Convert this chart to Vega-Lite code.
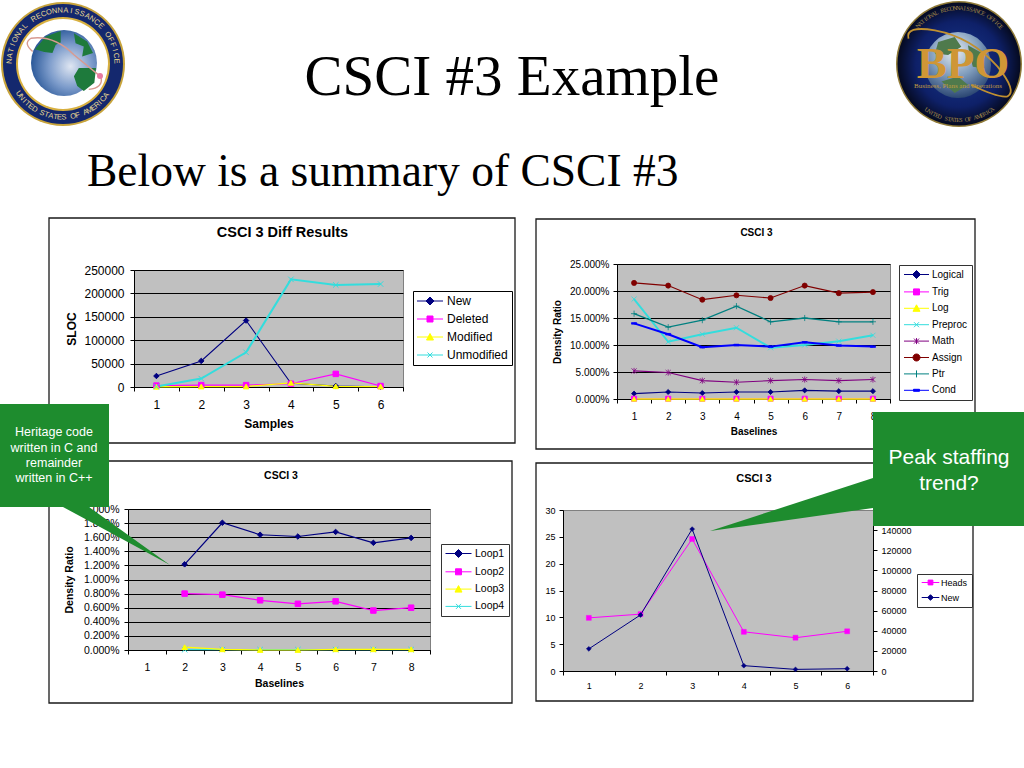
{
"$schema":"https://vega.github.io/schema/vega-lite/v6.json",
"padding":0,
"background":"white",
"config":{"font":"Liberation Sans","view":{"stroke":null},
"axis":{"domainColor":"#000","tickColor":"#000","labelColor":"#000","titleColor":"#000","labelFont":"Liberation Sans","titleFont":"Liberation Sans","titleFontWeight":"bold","tickSize":4,"labelOverlap":false,"labelFlush":false,"labelBound":false,"titleBaseline":"middle"},
"axisX":{"grid":false,"tickBand":"extent","labelAngle":0},
"axisY":{"grid":true,"gridColor":"#000","gridWidth":1.1,"gridOpacity":1},
"title":{"font":"Liberation Sans","fontWeight":"bold","color":"#000","anchor":"middle","frame":"group"}},
"hconcat":[
{"spacing":0,"bounds":"flush","vconcat":[
 {"width":302,"height":6,
  "encoding":{"x":{"field":"x","type":"quantitative","scale":{"domain":[128,430],"nice":false,"zero":false},"axis":null},
              "y":{"field":"y","type":"quantitative","scale":{"domain":[264,270],"nice":false,"zero":false,"reverse":true},"axis":null}},
  "layer":[
   {"data":{"values":[{"x":0,"x2":1024,"y":0,"y2":768}]},"mark":{"type":"rect","color":"#ffffff"},"encoding":{"x2":{"field":"x2"},"y2":{"field":"y2"}}},
   {"data":{"values":[{"x":49,"x2":515,"y":218,"y2":443},{"x":536,"x2":975,"y":219,"y2":449},{"x":49,"x2":512,"y":461,"y2":703},{"x":536,"x2":973,"y":463,"y2":701}]},"mark":{"type":"rect","fill":"#ffffff","stroke":"#1a1a1a","strokeWidth":1.3},"encoding":{"x2":{"field":"x2"},"y2":{"field":"y2"}}},
   {"data":{"values":[{"x":512,"y":95,"t":"CSCI #3 Example"}]},"mark":{"type":"text","font":"Liberation Serif","fontSize":57,"align":"center","baseline":"alphabetic","color":"#000"},"encoding":{"text":{"field":"t"}}},
   {"data":{"values":[{"x":87,"y":186,"t":"Below is a summary of CSCI #3"}]},"mark":{"type":"text","font":"Liberation Serif","fontSize":45.5,"align":"left","baseline":"alphabetic","color":"#000"},"encoding":{"text":{"field":"t"}}},

   {"data":{"values":[{"x":63,"y":64}]},"mark":{"type":"point","shape":"circle","filled":true,"size":15376,"color":"#c8a43c","opacity":1}},
   {"data":{"values":[{"x":63,"y":64}]},"mark":{"type":"point","shape":"circle","filled":true,"size":14400,"color":"#14286e","opacity":1}},
   {"data":{"values":[{"x":63,"y":64}]},"mark":{"type":"point","shape":"circle","filled":true,"size":8836,"color":"#d8b040","opacity":1}},
   {"data":{"values":[{"x":63,"y":64}]},"mark":{"type":"point","shape":"circle","filled":true,"size":8100,"color":"#ffffff","opacity":1}},
   {"data":{"values":[{"x":64,"y":63}]},"mark":{"type":"point","shape":"circle","size":4356,"filled":true,"opacity":1,"fill":{"gradient":"radial","x1":0.6,"y1":0.55,"r1":0,"x2":0.6,"y2":0.55,"r2":0.65,"stops":[{"offset":0,"color":"#dfe6f2"},{"offset":0.5,"color":"#7d9ccb"},{"offset":1,"color":"#1c4c90"}]}}},
   {"data":{"values":[{"x":64,"y":63}]},"mark":{"type":"point","size":4356,"filled":true,"opacity":1,"color":"#1e7a3c","shape":"M-.88,-.42L-.55,-.8L-.1,-.97L-.1,-.62L-.25,-.55L-.35,-.3L-.6,-.33ZM.3,-.9L.7,-.65L.88,-.3L.55,-.2L.6,-.5L.35,-.6ZM.45,.15L.97,.15L.92,.6L.6,.85L.4,.7L.3,.4Z"}},
   {"data":{"values":[{"x":64,"y":63}]},"mark":{"type":"point","size":4356,"filled":false,"opacity":1,"stroke":"#d89a90","strokeWidth":1.4,"shape":"M1.12,.42L.3,-.25Q-.3,-.85 -1,-.75Q-1.25,-.6 -.95,-.35M1.12,.42Q1.2,.75 .75,.8"}},
   {"data":{"values":[{"x":100,"y":76}]},"mark":{"type":"point","shape":"circle","filled":true,"size":36,"color":"#e87aa0","opacity":1}},
   {"data":{"values":[
    {"x":63,"y":64,"c":"N","t":-87,"a":-87},{"x":63,"y":64,"c":"A","t":-81,"a":-81},{"x":63,"y":64,"c":"T","t":-75,"a":-75},{"x":63,"y":64,"c":"I","t":-69,"a":-69},{"x":63,"y":64,"c":"O","t":-63,"a":-63},{"x":63,"y":64,"c":"N","t":-57,"a":-57},{"x":63,"y":64,"c":"A","t":-51,"a":-51},{"x":63,"y":64,"c":"L","t":-45,"a":-45},
    {"x":63,"y":64,"c":"R","t":-33,"a":-33},{"x":63,"y":64,"c":"E","t":-27,"a":-27},{"x":63,"y":64,"c":"C","t":-21,"a":-21},{"x":63,"y":64,"c":"O","t":-15,"a":-15},{"x":63,"y":64,"c":"N","t":-9,"a":-9},{"x":63,"y":64,"c":"N","t":-3,"a":-3},{"x":63,"y":64,"c":"A","t":3,"a":3},{"x":63,"y":64,"c":"I","t":9,"a":9},{"x":63,"y":64,"c":"S","t":15,"a":15},{"x":63,"y":64,"c":"S","t":21,"a":21},{"x":63,"y":64,"c":"A","t":27,"a":27},{"x":63,"y":64,"c":"N","t":33,"a":33},{"x":63,"y":64,"c":"C","t":39,"a":39},{"x":63,"y":64,"c":"E","t":45,"a":45},
    {"x":63,"y":64,"c":"O","t":57,"a":57},{"x":63,"y":64,"c":"F","t":63,"a":63},{"x":63,"y":64,"c":"F","t":69,"a":69},{"x":63,"y":64,"c":"I","t":75,"a":75},{"x":63,"y":64,"c":"C","t":81,"a":81},{"x":63,"y":64,"c":"E","t":87,"a":87},
    {"x":63,"y":64,"c":"U","t":236,"a":56},{"x":63,"y":64,"c":"N","t":231,"a":51},{"x":63,"y":64,"c":"I","t":226,"a":46},{"x":63,"y":64,"c":"T","t":222,"a":42},{"x":63,"y":64,"c":"E","t":217,"a":37},{"x":63,"y":64,"c":"D","t":212,"a":32},
    {"x":63,"y":64,"c":"S","t":203,"a":23},{"x":63,"y":64,"c":"T","t":198,"a":18},{"x":63,"y":64,"c":"A","t":193,"a":13},{"x":63,"y":64,"c":"T","t":188,"a":8},{"x":63,"y":64,"c":"E","t":184,"a":4},{"x":63,"y":64,"c":"S","t":179,"a":-1},
    {"x":63,"y":64,"c":"O","t":169,"a":-11},{"x":63,"y":64,"c":"F","t":164,"a":-16},
    {"x":63,"y":64,"c":"A","t":155,"a":-25},{"x":63,"y":64,"c":"M","t":150,"a":-30},{"x":63,"y":64,"c":"E","t":145,"a":-35},{"x":63,"y":64,"c":"R","t":140,"a":-40},{"x":63,"y":64,"c":"I","t":136,"a":-44},{"x":63,"y":64,"c":"C","t":131,"a":-49},{"x":63,"y":64,"c":"A","t":126,"a":-54}
   ]},"mark":{"type":"text","radius":53.5,"fontSize":7.5,"align":"center","baseline":"middle","color":"#e8d890"},"encoding":{"text":{"field":"c"},"theta":{"field":"t","type":"quantitative","scale":{"domain":[0,360],"range":[0,6.28319]}},"angle":{"field":"a","type":"quantitative","scale":null}}},

   {"data":{"values":[{"x":959,"y":64}]},"mark":{"type":"point","shape":"circle","filled":true,"size":15876,"color":"#8f7a38","opacity":1}},
   {"data":{"values":[{"x":959,"y":64}]},"mark":{"type":"point","shape":"circle","filled":true,"size":15129,"opacity":1,"fill":{"gradient":"radial","x1":0.5,"y1":0.5,"r1":0,"x2":0.5,"y2":0.5,"r2":0.5,"stops":[{"offset":0,"color":"#1a3a90"},{"offset":0.7,"color":"#0e2068"},{"offset":1,"color":"#050a20"}]}}},
   {"data":{"values":[{"x":958,"y":65}]},"mark":{"type":"point","shape":"circle","size":4356,"filled":true,"opacity":1,"fill":{"gradient":"radial","x1":0.45,"y1":0.3,"r1":0,"x2":0.45,"y2":0.3,"r2":0.75,"stops":[{"offset":0,"color":"#e6ecf2"},{"offset":0.5,"color":"#7f9cbc"},{"offset":1,"color":"#1f3a68"}]}}},
   {"data":{"values":[{"x":958,"y":65}]},"mark":{"type":"point","size":4356,"filled":true,"opacity":1,"color":"#4f7a4c","shape":"M-.6,-.7L-.1,-.85L.1,-.55L-.3,-.3L-.7,-.35ZM.3,-.6L.75,-.35L.8,.1L.45,.05L.35,-.3ZM-.5,.5L0,.35L.3,.6L-.1,.85Z"}},
   {"data":{"values":[{"x":958,"y":65}]},"mark":{"type":"point","size":4356,"filled":false,"opacity":1,"stroke":"#c09030","strokeWidth":1.8,"shape":"M-1.5,-.8Q-1.6,-1.2 -.7,-1.05Q.4,-.85 1.2,.05Q1.8,.8 1.5,.95Q1.2,1 .4,.6"}},
   {"data":{"values":[{"x":963,"y":78,"t":"BPO"}]},"mark":{"type":"text","font":"Liberation Serif","fontSize":45,"fontWeight":"bold","align":"center","baseline":"alphabetic","color":"#cf9636"},"encoding":{"text":{"field":"t"}}},
   {"data":{"values":[{"x":958,"y":88,"t":"Business, Plans and Operations"}]},"mark":{"type":"text","font":"Liberation Serif","fontSize":7,"align":"center","baseline":"alphabetic","color":"#c09a40"},"encoding":{"text":{"field":"t"}}},
   {"data":{"values":[
    {"x":959,"y":64,"c":"N","t":-47,"a":-47},{"x":959,"y":64,"c":"A","t":-43.7,"a":-43.7},{"x":959,"y":64,"c":"T","t":-40.4,"a":-40.4},{"x":959,"y":64,"c":"I","t":-37.1,"a":-37.1},{"x":959,"y":64,"c":"O","t":-33.8,"a":-33.8},{"x":959,"y":64,"c":"N","t":-30.5,"a":-30.5},{"x":959,"y":64,"c":"A","t":-27.2,"a":-27.2},{"x":959,"y":64,"c":"L","t":-23.9,"a":-23.9},
    {"x":959,"y":64,"c":"R","t":-17.3,"a":-17.3},{"x":959,"y":64,"c":"E","t":-14,"a":-14},{"x":959,"y":64,"c":"C","t":-10.7,"a":-10.7},{"x":959,"y":64,"c":"O","t":-7.4,"a":-7.4},{"x":959,"y":64,"c":"N","t":-4.1,"a":-4.1},{"x":959,"y":64,"c":"N","t":-0.8,"a":-0.8},{"x":959,"y":64,"c":"A","t":2.5,"a":2.5},{"x":959,"y":64,"c":"I","t":5.8,"a":5.8},{"x":959,"y":64,"c":"S","t":9.1,"a":9.1},{"x":959,"y":64,"c":"S","t":12.4,"a":12.4},{"x":959,"y":64,"c":"A","t":15.7,"a":15.7},{"x":959,"y":64,"c":"N","t":19,"a":19},{"x":959,"y":64,"c":"C","t":22.3,"a":22.3},{"x":959,"y":64,"c":"E","t":25.6,"a":25.6},
    {"x":959,"y":64,"c":"O","t":32.2,"a":32.2},{"x":959,"y":64,"c":"F","t":35.5,"a":35.5},{"x":959,"y":64,"c":"F","t":38.8,"a":38.8},{"x":959,"y":64,"c":"I","t":42.1,"a":42.1},{"x":959,"y":64,"c":"C","t":45.4,"a":45.4},{"x":959,"y":64,"c":"E","t":48.7,"a":48.7},
    {"x":959,"y":64,"c":"U","t":215,"a":35},{"x":959,"y":64,"c":"N","t":212,"a":32},{"x":959,"y":64,"c":"I","t":209,"a":29},{"x":959,"y":64,"c":"T","t":206,"a":26},{"x":959,"y":64,"c":"E","t":203,"a":23},{"x":959,"y":64,"c":"D","t":200,"a":20},
    {"x":959,"y":64,"c":"S","t":193,"a":13},{"x":959,"y":64,"c":"T","t":190,"a":10},{"x":959,"y":64,"c":"A","t":187,"a":7},{"x":959,"y":64,"c":"T","t":184,"a":4},{"x":959,"y":64,"c":"E","t":181,"a":1},{"x":959,"y":64,"c":"S","t":178,"a":-2},
    {"x":959,"y":64,"c":"O","t":172,"a":-8},{"x":959,"y":64,"c":"F","t":169,"a":-11},
    {"x":959,"y":64,"c":"A","t":163,"a":-17},{"x":959,"y":64,"c":"M","t":159,"a":-21},{"x":959,"y":64,"c":"E","t":156,"a":-24},{"x":959,"y":64,"c":"R","t":153,"a":-27},{"x":959,"y":64,"c":"I","t":150,"a":-30},{"x":959,"y":64,"c":"C","t":147,"a":-33},{"x":959,"y":64,"c":"A","t":144,"a":-36}
   ]},"mark":{"type":"text","radius":56,"fontSize":6,"font":"Liberation Serif","align":"center","baseline":"middle","color":"#a88c48"},"encoding":{"text":{"field":"c"},"theta":{"field":"t","type":"quantitative","scale":{"domain":[0,360],"range":[0,6.28319]}},"angle":{"field":"a","type":"quantitative","scale":null}}}
  ]},
 {"spacing":0,"bounds":"flush","hconcat":[
  {"width":6,"height":1,"data":{"values":[{}]},"mark":{"type":"rule","opacity":0},"encoding":{}},
  {"width":269,"height":117,"view":{"fill":"#c0c0c0","stroke":"#808080"},
   "title":{"text":"CSCI 3 Diff Results","fontSize":14.5,"dx":14,"offset":24},
   "data":{"values":[
    {"s":"1","series":"New","v":23500},{"s":"2","series":"New","v":55700},{"s":"3","series":"New","v":142000},{"s":"4","series":"New","v":8000},{"s":"5","series":"New","v":2000},{"s":"6","series":"New","v":500},
    {"s":"1","series":"Deleted","v":3000},{"s":"2","series":"Deleted","v":4000},{"s":"3","series":"Deleted","v":4000},{"s":"4","series":"Deleted","v":7000},{"s":"5","series":"Deleted","v":28000},{"s":"6","series":"Deleted","v":2000},
    {"s":"1","series":"Modified","v":500},{"s":"2","series":"Modified","v":1000},{"s":"3","series":"Modified","v":1000},{"s":"4","series":"Modified","v":9000},{"s":"5","series":"Modified","v":1500},{"s":"6","series":"Modified","v":1000},
    {"s":"1","series":"Unmodified","v":1000},{"s":"2","series":"Unmodified","v":18000},{"s":"3","series":"Unmodified","v":74000},{"s":"4","series":"Unmodified","v":230000},{"s":"5","series":"Unmodified","v":218000},{"s":"6","series":"Unmodified","v":220000}
   ]},
   "encoding":{
    "x":{"field":"s","type":"ordinal","scale":{"type":"band","domain":["1","2","3","4","5","6"],"paddingInner":0,"paddingOuter":0},"axis":{"title":"Samples","labelFontSize":12,"titleFontSize":12,"labelPadding":8,"titleY":36}},
    "y":{"field":"v","type":"quantitative","scale":{"domain":[0,250000],"nice":false},"axis":{"title":"SLOC","values":[0,50000,100000,150000,200000,250000],"format":"d","labelFontSize":12,"titleFontSize":12,"labelPadding":6,"titleX":-63}},
    "color":{"field":"series","type":"nominal","scale":{"domain":["New","Deleted","Modified","Unmodified"],"range":["#000080","#ff00ff","#ffff00","#33dddd"]},"legend":null},
    "stroke":{"field":"series","type":"nominal","scale":{"domain":["New","Deleted","Modified","Unmodified"],"range":["#000080","#ff00ff","#ffff00","#33dddd"]},"legend":null}
   },
   "layer":[
    {"mark":{"type":"line"},"encoding":{"strokeWidth":{"field":"series","type":"nominal","scale":{"type":"ordinal","domain":["New","Deleted","Modified","Unmodified"],"range":[1.1,1.1,1.3,2]},"legend":null}}},
    {"mark":{"type":"point","filled":true,"size":30,"strokeWidth":1,"opacity":1},"encoding":{"shape":{"field":"series","type":"nominal","scale":{"domain":["New","Deleted","Modified","Unmodified"],"range":["diamond","square","triangle-up","M-1,-1L1,1M-1,1L1,-1"]},"legend":null}}},
    {"mark":{"type":"point","filled":true,"size":0,"strokeWidth":1,"opacity":1},"encoding":{
      "color":{"field":"series","type":"nominal","scale":{"domain":["New","Deleted","Modified","Unmodified"],"range":["#000080","#ff00ff","#ffff00","#33dddd"]},"legend":{"orient":"none","legendX":279,"legendY":21,"title":null,"fillColor":"#ffffff","strokeColor":"#000000","padding":4,"symbolSize":100,"symbolOffset":7,"labelOffset":11,"labelFontSize":12,"labelColor":"#000000","rowPadding":6,"symbolStrokeWidth":1}},
      "stroke":{"field":"series","type":"nominal","scale":{"domain":["New","Deleted","Modified","Unmodified"],"range":["#000080","#ff00ff","#ffff00","#33dddd"]},"legend":{"orient":"none","legendX":279,"legendY":21,"title":null,"fillColor":"#ffffff","strokeColor":"#000000","padding":4,"symbolSize":100,"symbolOffset":7,"labelOffset":11,"labelFontSize":12,"labelColor":"#000000","rowPadding":6,"symbolStrokeWidth":1}},
      "shape":{"field":"series","type":"nominal","scale":{"domain":["New","Deleted","Modified","Unmodified"],"range":["M-2.6,0H2.6M0,-.8L.8,0 0,.8 -.8,0Z","M-2.6,0H2.6M-.6,-.6H.6V.6H-.6Z","M-2.6,0H2.6M0,-.7L.7,.6H-.7Z","M-2.6,0H2.6M-.5,-.5L.5,.5M-.5,.5L.5,-.5"]},"legend":{"orient":"none","legendX":279,"legendY":21,"title":null,"fillColor":"#ffffff","strokeColor":"#000000","padding":4,"symbolSize":100,"symbolOffset":7,"labelOffset":11,"labelFontSize":12,"labelColor":"#000000","rowPadding":6,"symbolStrokeWidth":1}}
    }}
   ],
   "resolve":{"scale":{"color":"independent","stroke":"independent","shape":"independent"}}
  }
 ]},
 {"width":1,"height":239,"data":{"values":[{}]},"mark":{"type":"rule","opacity":0},"encoding":{}},
 {"width":302,"height":141,"view":{"fill":"#c0c0c0","stroke":"#808080"},
   "title":{"text":"CSCI 3","fontSize":10.5,"dx":2,"offset":23},
   "data":{"values":[
    {"s":"2","series":"Loop1","v":0.01215},{"s":"3","series":"Loop1","v":0.01805},{"s":"4","series":"Loop1","v":0.01635},{"s":"5","series":"Loop1","v":0.0161},{"s":"6","series":"Loop1","v":0.01675},{"s":"7","series":"Loop1","v":0.0152},{"s":"8","series":"Loop1","v":0.0159},
    {"s":"2","series":"Loop2","v":0.008},{"s":"3","series":"Loop2","v":0.00785},{"s":"4","series":"Loop2","v":0.00705},{"s":"5","series":"Loop2","v":0.00655},{"s":"6","series":"Loop2","v":0.0069},{"s":"7","series":"Loop2","v":0.0056},{"s":"8","series":"Loop2","v":0.006},
    {"s":"2","series":"Loop4","v":0.00005},{"s":"3","series":"Loop4","v":0.00005},{"s":"4","series":"Loop4","v":0.00005},{"s":"5","series":"Loop4","v":0.00005},{"s":"6","series":"Loop4","v":0.00005},{"s":"7","series":"Loop4","v":0.00005},{"s":"8","series":"Loop4","v":0.00005},
    {"s":"2","series":"Loop3","v":0.0004},{"s":"3","series":"Loop3","v":0.0001},{"s":"4","series":"Loop3","v":0},{"s":"5","series":"Loop3","v":0},{"s":"6","series":"Loop3","v":0.0001},{"s":"7","series":"Loop3","v":0.0001},{"s":"8","series":"Loop3","v":0.0001}
   ]},
   "encoding":{
    "x":{"field":"s","type":"ordinal","scale":{"type":"band","domain":["1","2","3","4","5","6","7","8"],"paddingInner":0,"paddingOuter":0},"axis":{"title":"Baselines","labelFontSize":10.5,"titleFontSize":10.5,"labelPadding":8,"titleY":33}},
    "y":{"field":"v","type":"quantitative","scale":{"domain":[0,0.02],"nice":false},"axis":{"title":"Density Ratio","values":[0,0.002,0.004,0.006,0.008,0.01,0.012,0.014,0.016,0.018,0.02],"format":".3%","labelFontSize":10.5,"titleFontSize":10.5,"labelPadding":5,"titleX":-59}},
    "color":{"field":"series","type":"nominal","scale":{"domain":["Loop1","Loop2","Loop3","Loop4"],"range":["#000080","#ff00ff","#ffff00","#33dddd"]},"legend":null},
    "stroke":{"field":"series","type":"nominal","scale":{"domain":["Loop1","Loop2","Loop3","Loop4"],"range":["#000080","#ff00ff","#ffff00","#33dddd"]},"legend":null}
   },
   "layer":[
    {"mark":{"type":"line","strokeWidth":1.2}},
    {"mark":{"type":"point","filled":true,"size":30,"strokeWidth":1,"opacity":1},"encoding":{"shape":{"field":"series","type":"nominal","scale":{"domain":["Loop1","Loop2","Loop3","Loop4"],"range":["diamond","square","triangle-up","M-1,-1L1,1M-1,1L1,-1"]},"legend":null}}},
    {"mark":{"type":"point","filled":true,"size":0,"strokeWidth":1,"opacity":1},"encoding":{
      "color":{"field":"series","type":"nominal","scale":{"domain":["Loop1","Loop2","Loop3","Loop4"],"range":["#000080","#ff00ff","#ffff00","#33dddd"]},"legend":{"orient":"none","legendX":313,"legendY":35,"title":null,"fillColor":"#ffffff","strokeColor":"#333333","padding":4,"symbolSize":100,"symbolOffset":8,"labelOffset":11,"labelFontSize":10.5,"labelColor":"#000000","rowPadding":6.3,"symbolStrokeWidth":1}},
      "stroke":{"field":"series","type":"nominal","scale":{"domain":["Loop1","Loop2","Loop3","Loop4"],"range":["#000080","#ff00ff","#ffff00","#33dddd"]},"legend":{"orient":"none","legendX":313,"legendY":35,"title":null,"fillColor":"#ffffff","strokeColor":"#333333","padding":4,"symbolSize":100,"symbolOffset":8,"labelOffset":11,"labelFontSize":10.5,"labelColor":"#000000","rowPadding":6.3,"symbolStrokeWidth":1}},
      "shape":{"field":"series","type":"nominal","scale":{"domain":["Loop1","Loop2","Loop3","Loop4"],"range":["M-2.6,0H2.6M0,-.8L.8,0 0,.8 -.8,0Z","M-2.6,0H2.6M-.6,-.6H.6V.6H-.6Z","M-2.6,0H2.6M0,-.7L.7,.6H-.7Z","M-2.6,0H2.6M-.5,-.5L.5,.5M-.5,.5L.5,-.5"]},"legend":{"orient":"none","legendX":313,"legendY":35,"title":null,"fillColor":"#ffffff","strokeColor":"#333333","padding":4,"symbolSize":100,"symbolOffset":8,"labelOffset":11,"labelFontSize":10.5,"labelColor":"#000000","rowPadding":6.3,"symbolStrokeWidth":1}}
    }}
   ],
   "resolve":{"scale":{"color":"independent","stroke":"independent","shape":"independent"}}
 }
]},
{"spacing":0,"bounds":"flush","vconcat":[
 {"spacing":0,"bounds":"flush","hconcat":[
  {"width":54,"height":1,"data":{"values":[{}]},"mark":{"type":"rule","opacity":0},"encoding":{}},
  {"width":273,"height":135,"view":{"fill":"#c0c0c0","stroke":"#808080"},
   "title":{"text":"CSCI 3","fontSize":10,"dx":3,"offset":21},
   "data":{"values":[
    {"s":"1","series":"Logical","v":0.01},{"s":"2","series":"Logical","v":0.013},{"s":"3","series":"Logical","v":0.011},{"s":"4","series":"Logical","v":0.013},{"s":"5","series":"Logical","v":0.013},{"s":"6","series":"Logical","v":0.016},{"s":"7","series":"Logical","v":0.0145},{"s":"8","series":"Logical","v":0.0145},
    {"s":"1","series":"Trig","v":0.0005},{"s":"2","series":"Trig","v":0.0005},{"s":"3","series":"Trig","v":0.0005},{"s":"4","series":"Trig","v":0.0005},{"s":"5","series":"Trig","v":0.0005},{"s":"6","series":"Trig","v":0.0005},{"s":"7","series":"Trig","v":0.0005},{"s":"8","series":"Trig","v":0.0005},
    {"s":"1","series":"Log","v":0},{"s":"2","series":"Log","v":0},{"s":"3","series":"Log","v":0},{"s":"4","series":"Log","v":0},{"s":"5","series":"Log","v":0},{"s":"6","series":"Log","v":0},{"s":"7","series":"Log","v":0},{"s":"8","series":"Log","v":0},
    {"s":"1","series":"Preproc","v":0.185},{"s":"2","series":"Preproc","v":0.106},{"s":"3","series":"Preproc","v":0.12},{"s":"4","series":"Preproc","v":0.132},{"s":"5","series":"Preproc","v":0.095},{"s":"6","series":"Preproc","v":0.1},{"s":"7","series":"Preproc","v":0.107},{"s":"8","series":"Preproc","v":0.118},
    {"s":"1","series":"Math","v":0.052},{"s":"2","series":"Math","v":0.049},{"s":"3","series":"Math","v":0.034},{"s":"4","series":"Math","v":0.031},{"s":"5","series":"Math","v":0.034},{"s":"6","series":"Math","v":0.036},{"s":"7","series":"Math","v":0.034},{"s":"8","series":"Math","v":0.036},
    {"s":"1","series":"Assign","v":0.215},{"s":"2","series":"Assign","v":0.21},{"s":"3","series":"Assign","v":0.184},{"s":"4","series":"Assign","v":0.192},{"s":"5","series":"Assign","v":0.187},{"s":"6","series":"Assign","v":0.21},{"s":"7","series":"Assign","v":0.196},{"s":"8","series":"Assign","v":0.198},
    {"s":"1","series":"Ptr","v":0.158},{"s":"2","series":"Ptr","v":0.133},{"s":"3","series":"Ptr","v":0.146},{"s":"4","series":"Ptr","v":0.172},{"s":"5","series":"Ptr","v":0.143},{"s":"6","series":"Ptr","v":0.15},{"s":"7","series":"Ptr","v":0.143},{"s":"8","series":"Ptr","v":0.143},
    {"s":"1","series":"Cond","v":0.14},{"s":"2","series":"Cond","v":0.12},{"s":"3","series":"Cond","v":0.096},{"s":"4","series":"Cond","v":0.1},{"s":"5","series":"Cond","v":0.097},{"s":"6","series":"Cond","v":0.105},{"s":"7","series":"Cond","v":0.099},{"s":"8","series":"Cond","v":0.097}
   ]},
   "encoding":{
    "x":{"field":"s","type":"ordinal","scale":{"type":"band","domain":["1","2","3","4","5","6","7","8"],"paddingInner":0,"paddingOuter":0},"axis":{"title":"Baselines","labelFontSize":10,"titleFontSize":10,"labelPadding":8,"titleY":32}},
    "y":{"field":"v","type":"quantitative","scale":{"domain":[0,0.25],"nice":false},"axis":{"title":"Density Ratio","values":[0,0.05,0.1,0.15,0.2,0.25],"format":".3%","labelFontSize":10,"titleFontSize":10,"labelPadding":4,"titleX":-60}},
    "color":{"field":"series","type":"nominal","scale":{"domain":["Logical","Trig","Log","Preproc","Math","Assign","Ptr","Cond"],"range":["#000080","#ff00ff","#ffff00","#33dddd","#800080","#800000","#008080","#0000ff"]},"legend":null},
    "stroke":{"field":"series","type":"nominal","scale":{"domain":["Logical","Trig","Log","Preproc","Math","Assign","Ptr","Cond"],"range":["#000080","#ff00ff","#ffff00","#33dddd","#800080","#800000","#008080","#0000ff"]},"legend":null}
   },
   "layer":[
    {"mark":{"type":"line"},"encoding":{"strokeWidth":{"field":"series","type":"nominal","scale":{"type":"ordinal","domain":["Logical","Trig","Log","Preproc","Math","Assign","Ptr","Cond"],"range":[1.1,1.1,1.1,2,1.1,1.1,1.1,1.1]},"legend":null}}},
    {"mark":{"type":"point","filled":true,"size":26,"strokeWidth":0.8,"opacity":1},"encoding":{"shape":{"field":"series","type":"nominal","scale":{"domain":["Logical","Trig","Log","Preproc","Math","Assign","Ptr","Cond"],"range":["diamond","square","triangle-up","M-1,-1L1,1M-1,1L1,-1","M-1,-1L1,1M-1,1L1,-1M0,-1.2V1.2","circle","M-1.2,0H1.2M0,-1.2V1.2","M-1,-.3H1V.3H-1Z"]},"legend":null}}},
    {"mark":{"type":"point","filled":true,"size":0,"strokeWidth":1,"opacity":1},"encoding":{
      "color":{"field":"series","type":"nominal","scale":{"domain":["Logical","Trig","Log","Preproc","Math","Assign","Ptr","Cond"],"range":["#000080","#ff00ff","#ffff00","#33dddd","#800080","#800000","#008080","#0000ff"]},"legend":{"orient":"none","legendX":282,"legendY":1,"title":null,"fillColor":"#ffffff","strokeColor":"#333333","padding":4,"symbolSize":100,"symbolOffset":8,"labelOffset":10,"labelFontSize":10,"labelColor":"#000000","rowPadding":5.4,"symbolStrokeWidth":1}},
      "stroke":{"field":"series","type":"nominal","scale":{"domain":["Logical","Trig","Log","Preproc","Math","Assign","Ptr","Cond"],"range":["#000080","#ff00ff","#ffff00","#33dddd","#800080","#800000","#008080","#0000ff"]},"legend":{"orient":"none","legendX":282,"legendY":1,"title":null,"fillColor":"#ffffff","strokeColor":"#333333","padding":4,"symbolSize":100,"symbolOffset":8,"labelOffset":10,"labelFontSize":10,"labelColor":"#000000","rowPadding":5.4,"symbolStrokeWidth":1}},
      "shape":{"field":"series","type":"nominal","scale":{"domain":["Logical","Trig","Log","Preproc","Math","Assign","Ptr","Cond"],"range":["M-2.5,0H2.5M0,-.8L.8,0 0,.8 -.8,0Z","M-2.5,0H2.5M-.6,-.6H.6V.6H-.6Z","M-2.5,0H2.5M0,-.7L.7,.6H-.7Z","M-2.5,0H2.5M-.5,-.5L.5,.5M-.5,.5L.5,-.5","M-2.5,0H2.5M-.5,-.5L.5,.5M-.5,.5L.5,-.5M0,-.6V.6","M-2.5,0H2.5M-.7,0A.7,.7 0 1 1 .7,0A.7,.7 0 1 1 -.7,0Z","M-2.5,0H2.5M0,-.7V.7","M-2.5,0H2.5M-.6,-.2H.6V.2H-.6Z"]},"legend":{"orient":"none","legendX":282,"legendY":1,"title":null,"fillColor":"#ffffff","strokeColor":"#333333","padding":4,"symbolSize":100,"symbolOffset":8,"labelOffset":10,"labelFontSize":10,"labelColor":"#000000","rowPadding":5.4,"symbolStrokeWidth":1}}
    }}
   ],
   "resolve":{"scale":{"color":"independent","stroke":"independent","shape":"independent"}}
  }
 ]},
 {"width":1,"height":246,"data":{"values":[{}]},"mark":{"type":"rule","opacity":0},"encoding":{}},
 {"width":310,"height":161,"view":{"fill":"#c0c0c0","stroke":"#808080"},
   "title":{"text":"CSCI 3","fontSize":11,"dx":36,"offset":22},
   "encoding":{
    "x":{"field":"s","type":"ordinal","scale":{"type":"band","domain":["1","2","3","4","5","6"],"paddingInner":0,"paddingOuter":0},"axis":{"title":null,"labelFontSize":9,"labelPadding":6}},
    "color":{"field":"series","type":"nominal","scale":{"domain":["Heads","New"],"range":["#ff00ff","#000080"]},"legend":null},
    "stroke":{"field":"series","type":"nominal","scale":{"domain":["Heads","New"],"range":["#ff00ff","#000080"]},"legend":null}
   },
   "layer":[
    {"data":{"values":[{"s":"1","series":"Heads","v":9.9},{"s":"2","series":"Heads","v":10.6},{"s":"3","series":"Heads","v":24.6},{"s":"4","series":"Heads","v":7.3},{"s":"5","series":"Heads","v":6.2},{"s":"6","series":"Heads","v":7.4}]},
     "encoding":{"y":{"field":"v","type":"quantitative","scale":{"domain":[0,30],"nice":false},"axis":{"title":null,"orient":"left","grid":false,"values":[0,5,10,15,20,25,30],"labelFontSize":9,"labelPadding":4}}},
     "layer":[{"mark":{"type":"line","strokeWidth":1}},{"mark":{"type":"point","shape":"square","filled":true,"size":24,"strokeWidth":0.5,"opacity":1}}]},
    {"data":{"values":[{"s":"1","series":"New","v":22000},{"s":"2","series":"New","v":55700},{"s":"3","series":"New","v":141000},{"s":"4","series":"New","v":5300},{"s":"5","series":"New","v":1600},{"s":"6","series":"New","v":2300}]},
     "encoding":{"y":{"field":"v","type":"quantitative","scale":{"domain":[0,160000],"nice":false},"axis":{"title":null,"orient":"right","grid":false,"values":[0,20000,40000,60000,80000,100000,120000,140000,160000],"format":"d","labelFontSize":9,"labelPadding":4}}},
     "layer":[{"mark":{"type":"line","strokeWidth":1}},{"mark":{"type":"point","shape":"diamond","filled":true,"size":24,"strokeWidth":0.5,"opacity":1}}]},
    {"data":{"values":[{"s":"1","series":"Heads","v":0},{"s":"1","series":"New","v":0}]},
     "mark":{"type":"point","filled":true,"size":0,"strokeWidth":1,"opacity":1},
     "encoding":{
      "y":{"field":"v","type":"quantitative","scale":{"domain":[0,1],"nice":false},"axis":null},
      "color":{"field":"series","type":"nominal","scale":{"domain":["Heads","New"],"range":["#ff00ff","#000080"]},"legend":{"orient":"none","legendX":354,"legendY":64,"title":null,"fillColor":"#ffffff","strokeColor":"#333333","padding":4,"symbolSize":64,"symbolOffset":5,"labelOffset":6,"labelFontSize":9,"labelColor":"#000000","rowPadding":4,"symbolStrokeWidth":1}},
      "stroke":{"field":"series","type":"nominal","scale":{"domain":["Heads","New"],"range":["#ff00ff","#000080"]},"legend":{"orient":"none","legendX":354,"legendY":64,"title":null,"fillColor":"#ffffff","strokeColor":"#333333","padding":4,"symbolSize":64,"symbolOffset":5,"labelOffset":6,"labelFontSize":9,"labelColor":"#000000","rowPadding":4,"symbolStrokeWidth":1}},
      "shape":{"field":"series","type":"nominal","scale":{"domain":["Heads","New"],"range":["M-2.2,0H2.2M-.6,-.6H.6V.6H-.6Z","M-2.2,0H2.2M0,-.7L.7,0 0,.7 -.7,0Z"]},"legend":{"orient":"none","legendX":354,"legendY":64,"title":null,"fillColor":"#ffffff","strokeColor":"#333333","padding":4,"symbolSize":64,"symbolOffset":5,"labelOffset":6,"labelFontSize":9,"labelColor":"#000000","rowPadding":4,"symbolStrokeWidth":1}}
     }}
   ],
   "resolve":{"scale":{"y":"independent","color":"independent","stroke":"independent","shape":"independent"}}
 },
 {"width":310,"height":10,
  "encoding":{"x":{"field":"x","type":"quantitative","scale":{"domain":[563,873],"nice":false,"zero":false},"axis":null},
              "y":{"field":"y","type":"quantitative","scale":{"domain":[671,681],"nice":false,"zero":false,"reverse":true},"axis":null}},
  "layer":[
   {"data":{"values":[{"x":0,"x2":109,"y":404,"y2":507},{"x":873,"x2":1024,"y":412,"y2":526}]},"mark":{"type":"rect","color":"#1e8c2e"},"encoding":{"x2":{"field":"x2"},"y2":{"field":"y2"}}},
   {"data":{"values":[{"x":63,"y":507,"y2":507},{"x":89,"y":507,"y2":521},{"x":170,"y":565,"y2":565}]},"mark":{"type":"area","color":"#1e8c2e","orient":"vertical","opacity":1},"encoding":{"y2":{"field":"y2"}}},
   {"data":{"values":[{"x":710,"y":531,"y2":531},{"x":873,"y":478,"y2":508}]},"mark":{"type":"area","color":"#1e8c2e","orient":"vertical","opacity":1},"encoding":{"y2":{"field":"y2"}}},
   {"data":{"values":[{"x":54,"y":432,"t":"Heritage code"},{"x":54,"y":448,"t":"written in C and"},{"x":54,"y":463,"t":"remainder"},{"x":54,"y":478,"t":"written in C++"}]},"mark":{"type":"text","fontSize":12.5,"align":"center","baseline":"middle","color":"#ffffff"},"encoding":{"text":{"field":"t"}}},
   {"data":{"values":[{"x":949,"y":458,"t":"Peak staffing"},{"x":949,"y":484,"t":"trend?"}]},"mark":{"type":"text","fontSize":21,"align":"center","baseline":"middle","color":"#ffffff"},"encoding":{"text":{"field":"t"}}}
  ]}
]}
],
"spacing":435,
"bounds":"flush"
}
